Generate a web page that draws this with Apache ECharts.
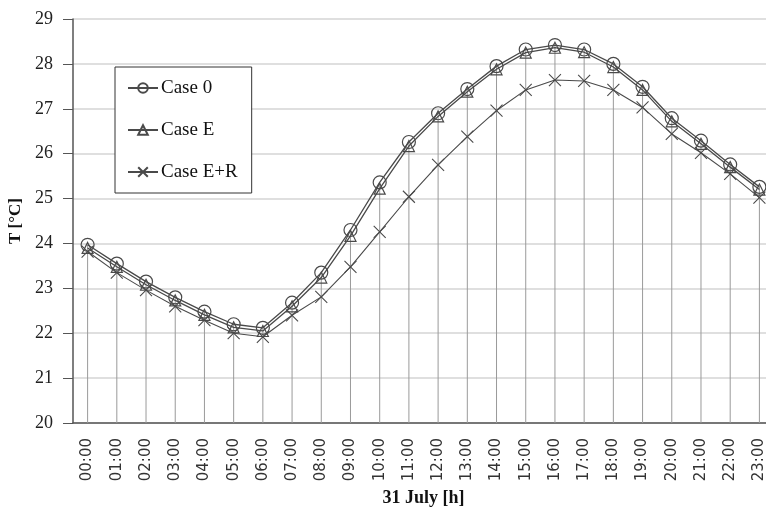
<!DOCTYPE html>
<html lang="en">
  <head>
    <meta charset="UTF-8" />
    <title>31 July temperatures</title>
    <script src="https://cdn.jsdelivr.net/npm/echarts@6/dist/echarts.min.js"></script>
  </head>
  <style>
    html,
    body {
      margin: 0;
      padding: 0;
      background: #fff;
    }
    #echart {
      width: 766px;
      height: 509px;
    }
  </style>
  <body>
    <div id="echart"></div>
  </body>
  <script>
    const hours = [
      "00:00", "01:00", "02:00", "03:00", "04:00", "05:00", "06:00", "07:00",
      "08:00", "09:00", "10:00", "11:00", "12:00", "13:00", "14:00", "15:00",
      "16:00", "17:00", "18:00", "19:00", "20:00", "21:00", "22:00", "23:00",
    ];
    const case0 = [
      23.97, 23.55, 23.15, 22.8, 22.48, 22.2, 22.12, 22.68, 23.35, 24.3, 25.36, 26.26,
      26.9, 27.44, 27.95, 28.32, 28.42, 28.32, 28.0, 27.49, 26.79, 26.29, 25.76, 25.26,
    ];
    const caseE = [
      23.9, 23.48, 23.08, 22.73, 22.41, 22.13, 22.05, 22.6, 23.24, 24.17, 25.22, 26.17,
      26.83, 27.38, 27.88, 28.25, 28.36, 28.26, 27.93, 27.42, 26.72, 26.22, 25.7, 25.2,
    ];
    const caseER = [
      23.82, 23.35, 22.96, 22.6, 22.29, 22.0, 21.92, 22.4, 22.81, 23.48, 24.26, 25.04,
      25.75, 26.38, 26.96, 27.42, 27.64, 27.62, 27.42, 27.03, 26.44, 26.02, 25.55, 25.02,
    ];

    // drop lines go from the highest point down to the axis
    const dropTop = hours.map((h, i) => Math.max(case0[i], caseE[i], caseER[i]));

    const serif = "Liberation Serif";
    const ink = "#4a4a4a";
    const xMark = "path://M0,0L10,10M10,0L0,10";

    const chart = echarts.init(document.getElementById("echart"));

    const option = {
      animation: false,
      grid: {
        left: 73,
        top: 19,
        width: 701,
        height: 404,
        outerBoundsMode: "none",
      },
      legend: {
        left: 115,
        top: 67,
        orient: "vertical",
        data: ["Case 0", "Case E", "Case E+R"],
        itemWidth: 30,
        itemHeight: 12,
        itemGap: 22,
        padding: [11, 14, 11, 12],
        borderColor: "#333",
        borderWidth: 1,
        backgroundColor: "#fff",
        textStyle: {
          fontFamily: serif,
          fontSize: 19,
          lineHeight: 20,
          color: "#111",
          padding: [0, 0, 0, -2],
        },
      },
      xAxis: {
        type: "category",
        data: hours,
        name: "31 July [h]",
        nameLocation: "middle",
        nameGap: 64,
        nameTextStyle: {
          fontFamily: serif,
          fontWeight: "bold",
          fontSize: 18,
          color: "#111",
        },
        axisLine: { lineStyle: { color: "#555", width: 1.5 } },
        axisTick: { show: false },
        axisLabel: {
          interval: 0,
          rotate: 90,
          margin: 15,
          fontFamily: "DejaVu Sans",
          fontSize: 15,
          color: "#333",
        },
        splitLine: { show: false },
      },
      yAxis: {
        type: "value",
        min: 20,
        max: 29,
        interval: 1,
        name: "T [°C]",
        nameLocation: "middle",
        nameGap: 41,
        nameTextStyle: {
          fontFamily: serif,
          fontWeight: "bold",
          fontSize: 17,
          color: "#111",
        },
        axisLine: { show: true, lineStyle: { color: "#555", width: 1.5 } },
        axisTick: { show: true, length: 10, lineStyle: { color: "#555" } },
        axisLabel: {
          margin: 20,
          fontFamily: serif,
          fontSize: 18,
          color: "#222",
        },
        splitLine: { lineStyle: { color: "#d4d4d4", width: 1.5 } },
      },
      series: [
        {
          name: "drop",
          type: "bar",
          data: dropTop,
          barWidth: 1,
          itemStyle: { color: "#9a9a9a" },
          silent: true,
          z: 1,
        },
        {
          name: "Case 0",
          type: "line",
          data: case0,
          symbol: "circle",
          symbolSize: 13,
          lineStyle: { color: ink, width: 1.3 },
          itemStyle: { color: "rgba(0,0,0,0)", borderColor: ink, borderWidth: 1.2 },
          z: 3,
        },
        {
          name: "Case E",
          type: "line",
          data: caseE,
          symbol: "triangle",
          symbolSize: 11,
          lineStyle: { color: ink, width: 1.3 },
          itemStyle: { color: "rgba(0,0,0,0)", borderColor: ink, borderWidth: 1.2 },
          z: 4,
        },
        {
          name: "Case E+R",
          type: "line",
          data: caseER,
          symbol: xMark,
          symbolSize: 12,
          lineStyle: { color: ink, width: 1.1 },
          itemStyle: { color: ink, borderColor: ink, borderWidth: 1.1 },
          z: 5,
        },
      ],
    };

    chart.setOption(option);
  </script>
</html>
